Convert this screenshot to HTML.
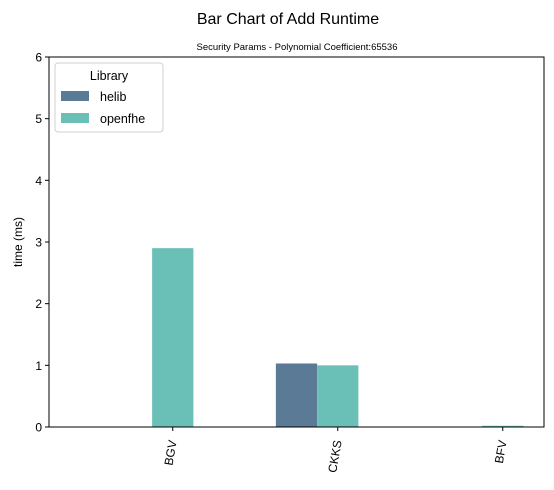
<!DOCTYPE html>
<html><head><meta charset="utf-8"><style>
body{margin:0;background:#fff;font-family:"Liberation Sans",sans-serif}
</style></head><body>
<svg id="c" width="554" height="485" xmlns="http://www.w3.org/2000/svg" font-family="Liberation Sans, sans-serif">
<text x="288" y="24" font-size="16" text-anchor="middle">Bar Chart of Add Runtime</text>
<text x="297" y="50" font-size="9.5" text-anchor="middle">Security Params - Polynomial Coefficient:65536</text>
<text transform="translate(22,242) rotate(-90)" font-size="12" text-anchor="middle">time (ms)</text>
<g id="bars"></g>
<g id="axes"></g>
<g>
<rect x="55" y="63" width="108" height="69" rx="3" fill="#fff" stroke="#ccc" opacity="0.9"/>
<text x="109" y="80" font-size="12.5" text-anchor="middle">Library</text>
<rect x="61" y="91" width="28" height="10" fill="#5a7a96"/>
<text x="100" y="101" font-size="12.5">helib</text>
<rect x="61" y="113" width="28" height="10" fill="#6abfb6"/>
<text x="100" y="123" font-size="12.5">openfhe</text>
</g>
</svg>
<script>
const categories=["BGV","CKKS","BFV"];
const helib=[0,1.03,0];
const openfhe=[2.9,1.0,0.02];
const yTicks=[0,1,2,3,4,5,6];
const L=49,R=544,T=57,B=427;
const x=v=>L+(v+0.75)*(R-L)/3;
const y=v=>B-v*(B-T)/6;
const NS="http://www.w3.org/2000/svg";
const bars=document.getElementById('bars'),axes=document.getElementById('axes');
function mk(p,tag,a){const e=document.createElementNS(NS,tag);for(const k in a)e.setAttribute(k,a[k]);p.appendChild(e);return e;}
categories.forEach((c,i)=>{
  if(helib[i]>0){const r=mk(bars,'rect',{x:x(i-0.375),y:y(helib[i]),width:x(0.25)-x(0),height:B-y(helib[i]),fill:'#5a7a96'});
  
  }
  if(openfhe[i]>0){const r=mk(bars,'rect',{x:x(i-0.125),y:y(openfhe[i]),width:x(0.25)-x(0),height:B-y(openfhe[i]),fill:'#6abfb6'});
  
  }
  const tx=x(i);
  mk(axes,'line',{x1:tx,x2:tx,y1:B,y2:B+4,stroke:'#000'});
  const t=mk(axes,'text',{transform:`translate(${tx+4},${B+14}) rotate(-80)`,'font-size':12,'text-anchor':'end'});
  t.textContent=c;
  
  
});
yTicks.forEach(v=>{
  mk(axes,'line',{x1:L-4,x2:L,y1:y(v),y2:y(v),stroke:'#000'});
  const t=mk(axes,'text',{x:L-7,y:y(v)+4.5,'font-size':12,'text-anchor':'end'});
  t.textContent=v;
  
  
});
const f=mk(axes,'rect',{x:L,y:T,width:R-L,height:B-T,fill:'none',stroke:'#000','stroke-width':1});


</script>
</body></html>
